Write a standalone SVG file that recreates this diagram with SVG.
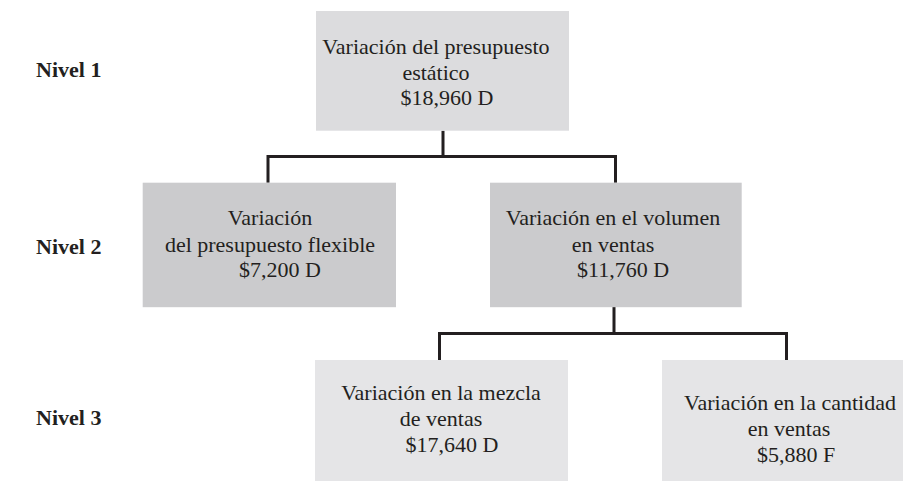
<svg xmlns="http://www.w3.org/2000/svg" width="903" height="481" viewBox="0 0 903 481">
<style>
.t{font-family:"Liberation Serif","Times New Roman",serif;font-size:22px;fill:#231f20;text-anchor:middle}
.lv{font-family:"Liberation Serif","Times New Roman",serif;font-size:22px;font-weight:bold;fill:#231f20}
.c{fill:none;stroke:#231f20;stroke-width:3;stroke-linejoin:miter}
.b1{fill:#dcdcde}
.b2{fill:#cbcbcd}
.b3{fill:#e5e5e7}
</style>
<rect width="903" height="481" fill="#ffffff"/>
<g id="levels">
<text class="lv" x="36" y="77">Nivel 1</text>
<text class="lv" x="36" y="254">Nivel 2</text>
<text class="lv" x="36" y="425">Nivel 3</text>
</g>
<g id="connectors">
<path class="c" d="M443,130.7 V156.5 M268,182.7 V156.5 H615.5 V182.7"/>
<path class="c" d="M614,306.7 V333.5 M439.5,360 V333.5 H786.5 V360"/>
</g>
<g id="n1">
<rect class="b1" x="316" y="11" width="253" height="119.7"/>
<text class="t" x="436" y="54">Variación del presupuesto</text>
<text class="t" x="436" y="79.5">estático</text>
<text class="t" x="447" y="105">$18,960 D</text>
</g>
<g id="n2a">
<rect class="b2" x="142.7" y="182.7" width="253.3" height="124.5"/>
<text class="t" x="270" y="225">Variación</text>
<text class="t" x="270" y="251.5">del presupuesto flexible</text>
<text class="t" x="280" y="277">$7,200 D</text>
</g>
<g id="n2b">
<rect class="b2" x="490" y="182.7" width="251.7" height="124.5"/>
<text class="t" x="613" y="225">Variación en el volumen</text>
<text class="t" x="613" y="251.5">en ventas</text>
<text class="t" x="623" y="277">$11,760 D</text>
</g>
<g id="n3a">
<rect class="b3" x="315" y="360" width="253" height="124"/>
<text class="t" x="441" y="400">Variación en la mezcla</text>
<text class="t" x="441" y="426">de ventas</text>
<text class="t" x="452" y="452">$17,640 D</text>
</g>
<g id="n3b">
<rect class="b3" x="662" y="360" width="253" height="124"/>
<text class="t" x="790" y="410">Variación en la cantidad</text>
<text class="t" x="789" y="436">en ventas</text>
<text class="t" x="796" y="462">$5,880 F</text>
</g>
</svg>
